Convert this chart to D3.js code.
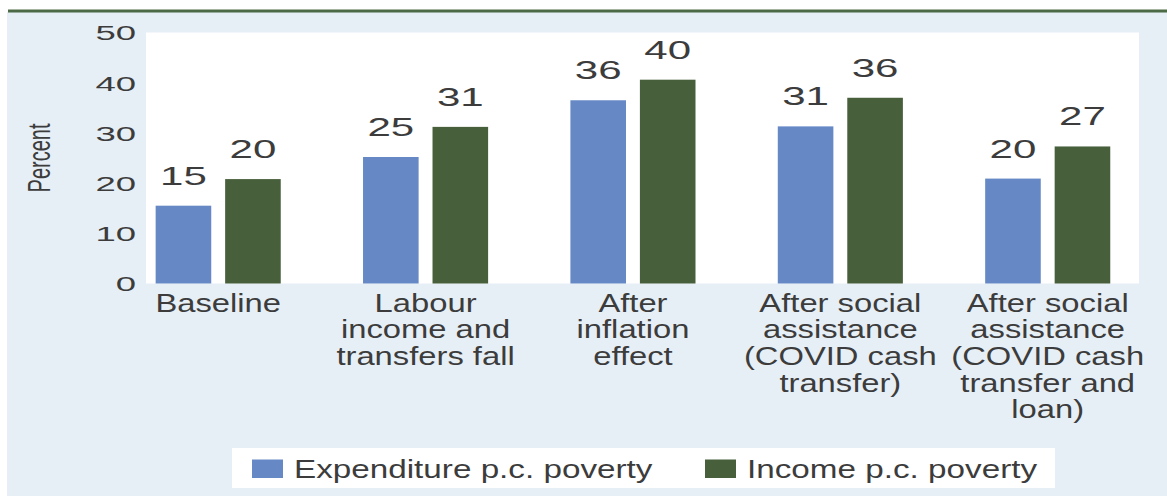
<!DOCTYPE html>
<html>
<head>
<meta charset="utf-8">
<script src="https://cdn.jsdelivr.net/npm/d3@7"></script>
<style>
  html, body { margin: 0; padding: 0; background: #ffffff; }
  svg { display: block; font-family: "Liberation Sans", Arial, sans-serif; }
</style>
</head>
<body>
<div id="plot"></div>
<script>
// data
const categories = ["Baseline", "Labour", "Inflation", "Social", "Loan"];
const categoryLines = [
  ["Baseline"],
  ["Labour", "income and", "transfers fall"],
  ["After", "inflation", "effect"],
  ["After social", "assistance", "(COVID cash", "transfer)"],
  ["After social", "assistance", "(COVID cash", "transfer and", "loan)"]
];
const seriesNames = ["Expenditure p.c. poverty", "Income p.c. poverty"];
const expenditure = [15.5, 25.2, 36.5, 31.3, 20.9];
const income = [20.8, 31.2, 40.6, 37.0, 27.3];
const expenditureLabels = ["15", "25", "36", "31", "20"];
const incomeLabels = ["20", "31", "40", "36", "27"];
const yTicks = [0, 10, 20, 30, 40, 50];

const colors = ["#6689c6", "#475f3a"];
const textColor = "#3c3c3c";

const width = 1167;
const height = 496;

const svg = d3.select("div#plot")
  .append("svg")
  .attr("width", width)
  .attr("height", height);

// panel background + top rule
svg.append("rect")
  .attr("x", 7).attr("y", 12)
  .attr("width", width - 7).attr("height", height - 12)
  .attr("fill", "#e7eff6");

svg.append("rect")
  .attr("x", 8).attr("y", 9.5)
  .attr("width", width - 8).attr("height", 3)
  .attr("fill", "#4b6a45");

// scales
const y = d3.scaleLinear()
  .domain([0, 50])
  .range([283.5, 32.5]);

const x0 = d3.scaleBand()
  .domain(categories)
  .range([114.5, 1151.4])
  .padding(0);

const x1 = d3.scaleBand()
  .domain(seriesNames)
  .range([0, x0.bandwidth()])
  .paddingInner(0.2)
  .paddingOuter(0.592);

// white plot area
svg.append("rect")
  .attr("x", 146).attr("y", y(50))
  .attr("width", 1139 - 146).attr("height", y(0) - y(50))
  .attr("fill", "#ffffff");

// bars
const rows = categories.map((c, i) => ({
  cat: c,
  values: [
    { key: seriesNames[0], v: expenditure[i], label: expenditureLabels[i], color: colors[0] },
    { key: seriesNames[1], v: income[i], label: incomeLabels[i], color: colors[1] }
  ]
}));

const groups = svg.selectAll("g.group")
  .data(rows)
  .enter().append("g")
  .attr("class", "group")
  .attr("transform", d => "translate(" + x0(d.cat) + ",0)");

groups.selectAll("rect")
  .data(d => d.values)
  .enter().append("rect")
  .attr("x", d => x1(d.key))
  .attr("width", x1.bandwidth())
  .attr("y", d => y(d.v))
  .attr("height", d => y(0) - y(d.v))
  .attr("fill", d => d.color);

// value labels
groups.selectAll("text.value")
  .data(d => d.values)
  .enter().append("text")
  .attr("class", "value")
  .attr("transform", d => "translate(" + (x1(d.key) + x1.bandwidth() / 2) + "," + (y(d.v) - 21) + ") scale(1.65,1)")
  .attr("text-anchor", "middle")
  .attr("font-size", "25.5px")
  .attr("fill", textColor)
  .text(d => d.label);

// y axis
const yAxis = svg.append("g")
  .attr("transform", "translate(136,0)")
  .call(d3.axisLeft(y).tickValues(yTicks).tickSize(0).tickPadding(0));

yAxis.select(".domain").remove();
yAxis.selectAll("text")
  .attr("x", 0)
  .attr("dy", "0.36em")
  .attr("font-size", "20.5px")
  .attr("font-family", "Liberation Sans, Arial, sans-serif")
  .attr("fill", textColor)
  .attr("transform", "scale(1.78,1)");

svg.append("text")
  .attr("transform", "translate(50,158) scale(1.6,1) rotate(-90)")
  .attr("text-anchor", "middle")
  .attr("font-size", "20px")
  .attr("fill", textColor)
  .text("Percent");

// category labels
const catText = svg.selectAll("text.cat")
  .data(categories)
  .enter().append("text")
  .attr("class", "cat")
  .attr("transform", d => "translate(" + (x0(d) + x0.bandwidth() / 2) + ",0) scale(1.31,1)")
  .attr("text-anchor", "middle")
  .attr("font-size", "25px")
  .attr("fill", textColor);

catText.selectAll("tspan")
  .data((d, i) => categoryLines[i])
  .enter().append("tspan")
  .attr("x", 0)
  .attr("y", (d, i) => 311.7 + i * 26.7)
  .text(d => d);

// legend
svg.append("rect")
  .attr("x", 232).attr("y", 448)
  .attr("width", 823).attr("height", 40)
  .attr("fill", "#ffffff");

const legendX = [252, 705];
const legend = svg.selectAll("g.legend")
  .data(seriesNames)
  .enter().append("g")
  .attr("class", "legend")
  .attr("transform", (d, i) => "translate(" + legendX[i] + ",0)");

legend.append("rect")
  .attr("x", 0).attr("y", 459.5)
  .attr("width", 31).attr("height", 18.5)
  .attr("fill", (d, i) => colors[i]);

legend.append("text")
  .attr("transform", "translate(42,478) scale(1.33,1)")
  .attr("font-size", "25px")
  .attr("fill", textColor)
  .text(d => d);
</script>
</body>
</html>
